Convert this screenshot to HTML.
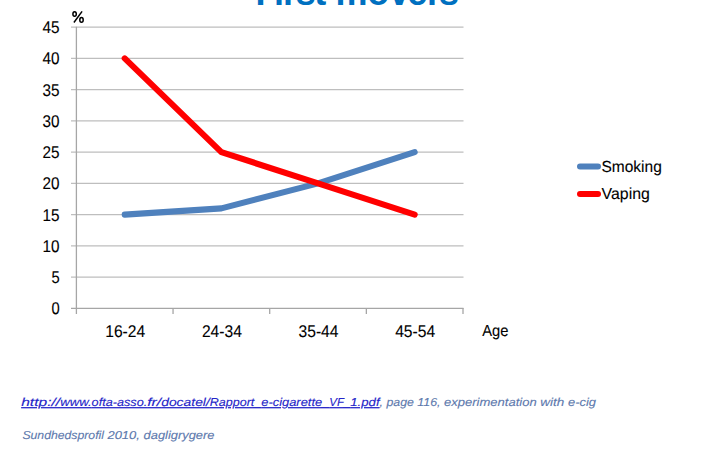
<!DOCTYPE html>
<html><head><meta charset="utf-8">
<style>
html,body{margin:0;padding:0;background:#fff;width:713px;height:460px;overflow:hidden;}
svg{position:absolute;left:0;top:0;}
text{font-family:"Liberation Sans",sans-serif;}
</style></head>
<body>
<svg width="713" height="460" viewBox="0 0 713 460">
<text x="255.59 273.99 283.03 295.85 314.27 326.26 335.43 367.27 389.25 407.30 427.03 439.10" y="4.9" font-size="36" font-weight="bold" fill="#0070C0">First movers</text>
<g stroke="#BEBEBE" stroke-width="1.3">
<line x1="71" y1="27.20" x2="463.5" y2="27.20"/><line x1="71" y1="58.43" x2="463.5" y2="58.43"/><line x1="71" y1="89.67" x2="463.5" y2="89.67"/><line x1="71" y1="120.90" x2="463.5" y2="120.90"/><line x1="71" y1="152.13" x2="463.5" y2="152.13"/><line x1="71" y1="183.37" x2="463.5" y2="183.37"/><line x1="71" y1="214.60" x2="463.5" y2="214.60"/><line x1="71" y1="245.83" x2="463.5" y2="245.83"/><line x1="71" y1="277.07" x2="463.5" y2="277.07"/>
</g>
<g stroke="#A6A6A6" stroke-width="1.3">
<line x1="71" y1="308.3" x2="463.5" y2="308.3"/>
<line x1="76.4" y1="26.7" x2="76.4" y2="314"/>
<line x1="173.05" y1="308" x2="173.05" y2="314"/><line x1="269.70" y1="308" x2="269.70" y2="314"/><line x1="366.35" y1="308" x2="366.35" y2="314"/><line x1="463.00" y1="308" x2="463.00" y2="314"/>
</g>
<g font-size="17" fill="#000" stroke="#000" stroke-width="0.1" text-rendering="geometricPrecision">
<text x="42.60" y="33.10" textLength="17" lengthAdjust="spacingAndGlyphs">45</text><text x="42.60" y="64.33" textLength="17" lengthAdjust="spacingAndGlyphs">40</text><text x="42.60" y="95.57" textLength="17" lengthAdjust="spacingAndGlyphs">35</text><text x="42.60" y="126.80" textLength="17" lengthAdjust="spacingAndGlyphs">30</text><text x="42.60" y="158.03" textLength="17" lengthAdjust="spacingAndGlyphs">25</text><text x="42.60" y="189.27" textLength="17" lengthAdjust="spacingAndGlyphs">20</text><text x="42.60" y="220.50" textLength="17" lengthAdjust="spacingAndGlyphs">15</text><text x="42.60" y="251.73" textLength="17" lengthAdjust="spacingAndGlyphs">10</text><text x="51.40" y="282.97" textLength="8.2" lengthAdjust="spacingAndGlyphs">5</text><text x="51.40" y="314.20" textLength="8.2" lengthAdjust="spacingAndGlyphs">0</text>

<text x="105.23" y="336.6" textLength="40" lengthAdjust="spacingAndGlyphs">16-24</text><text x="201.88" y="336.6" textLength="40" lengthAdjust="spacingAndGlyphs">24-34</text><text x="298.52" y="336.6" textLength="40" lengthAdjust="spacingAndGlyphs">35-44</text><text x="395.18" y="336.6" textLength="40" lengthAdjust="spacingAndGlyphs">45-54</text>
<text x="482.2" y="335.6" font-size="16" textLength="26.2" lengthAdjust="spacingAndGlyphs">Age</text>
<text x="601.5" y="171.8" font-size="16" textLength="60.3" lengthAdjust="spacingAndGlyphs">Smoking</text>
<text x="601.6" y="199.4" font-size="16" textLength="48.2" lengthAdjust="spacingAndGlyphs">Vaping</text>
</g>
<polyline points="124.73,214.60 221.38,208.35 318.02,183.37 414.68,152.13" fill="none" stroke="#4F81BD" stroke-width="6.1" stroke-linecap="round" stroke-linejoin="round"/>
<polyline points="124.73,58.43 221.38,152.13 318.02,183.37 414.68,214.60" fill="none" stroke="#FF0000" stroke-width="6.1" stroke-linecap="round" stroke-linejoin="round"/>
<line x1="580" y1="166.4" x2="598" y2="166.4" stroke="#4F81BD" stroke-width="6" stroke-linecap="round"/>
<g fill="none" stroke="#000" stroke-width="1.5"><ellipse cx="74.6" cy="14" rx="1.7" ry="2.3"/><ellipse cx="81.5" cy="19.9" rx="1.7" ry="2.3"/><line x1="82.1" y1="11.4" x2="73.9" y2="22.5"/></g>
<line x1="580" y1="194" x2="598" y2="194" stroke="#FF0000" stroke-width="6" stroke-linecap="round"/>
<g font-size="11.5" font-style="italic" text-rendering="geometricPrecision" stroke-width="0.12">
<text x="21.2" y="406.1" fill="#2424C8" stroke="#2424C8" text-decoration="underline" textLength="39.0" lengthAdjust="spacingAndGlyphs">http://</text>
<text x="60.2" y="406.1" fill="#2424C8" stroke="#2424C8" text-decoration="underline" textLength="31.4" lengthAdjust="spacingAndGlyphs">www.</text>
<text x="91.6" y="406.1" fill="#2424C8" stroke="#2424C8" text-decoration="underline" textLength="55.6" lengthAdjust="spacingAndGlyphs">ofta-asso.</text>
<text x="147.2" y="406.1" fill="#2424C8" stroke="#2424C8" text-decoration="underline" textLength="14.0" lengthAdjust="spacingAndGlyphs">fr/</text>
<text x="161.2" y="406.1" fill="#2424C8" stroke="#2424C8" text-decoration="underline" textLength="48.6" lengthAdjust="spacingAndGlyphs">docatel/</text>
<text x="209.8" y="406.1" fill="#2424C8" stroke="#2424C8" text-decoration="underline" textLength="51.5" lengthAdjust="spacingAndGlyphs">Rapport_</text>
<text x="261.3" y="406.1" fill="#2424C8" stroke="#2424C8" text-decoration="underline" textLength="68.0" lengthAdjust="spacingAndGlyphs">e-cigarette_</text>
<text x="329.3" y="406.1" fill="#2424C8" stroke="#2424C8" text-decoration="underline" textLength="21.0" lengthAdjust="spacingAndGlyphs">VF_</text>
<text x="350.3" y="406.1" fill="#2424C8" stroke="#2424C8" text-decoration="underline" textLength="29.3" lengthAdjust="spacingAndGlyphs">1.pdf</text>
<text x="379.6" y="406.1" fill="#5D79AD" stroke="#5D79AD" textLength="37.7" lengthAdjust="spacingAndGlyphs">, page </text>
<text x="417.3" y="406.1" fill="#5D79AD" stroke="#5D79AD" textLength="26.7" lengthAdjust="spacingAndGlyphs">116, </text>
<text x="444.0" y="406.1" fill="#5D79AD" stroke="#5D79AD" textLength="96.3" lengthAdjust="spacingAndGlyphs">experimentation </text>
<text x="540.3" y="406.1" fill="#5D79AD" stroke="#5D79AD" textLength="27.7" lengthAdjust="spacingAndGlyphs">with </text>
<text x="568.0" y="406.1" fill="#5D79AD" stroke="#5D79AD" textLength="28.0" lengthAdjust="spacingAndGlyphs">e-cig</text>
<text x="22.4" y="438.9" fill="#5D79AD" stroke="#5D79AD" textLength="85.0" lengthAdjust="spacingAndGlyphs">Sundhedsprofil </text>
<text x="107.4" y="438.9" fill="#5D79AD" stroke="#5D79AD" textLength="36.2" lengthAdjust="spacingAndGlyphs">2010, </text>
<text x="143.6" y="438.9" fill="#5D79AD" stroke="#5D79AD" textLength="70.8" lengthAdjust="spacingAndGlyphs">dagligrygere</text>
</g>
</svg>
</body></html>
